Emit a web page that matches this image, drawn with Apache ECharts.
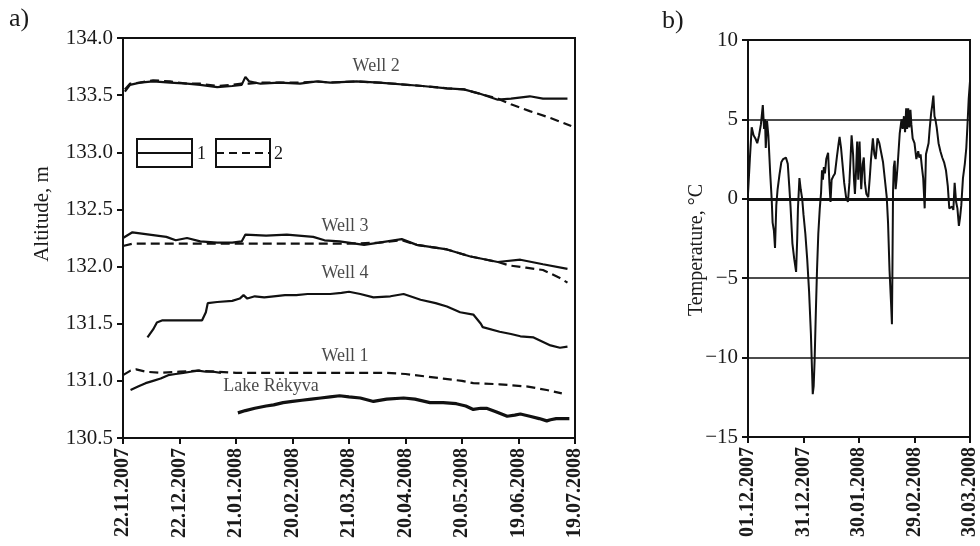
<!DOCTYPE html>
<html><head><meta charset="utf-8">
<script src="https://cdn.jsdelivr.net/npm/echarts@6/dist/echarts.min.js"></script>
<style>html,body{margin:0;padding:0;background:#fff}#c{width:980px;height:546px}</style>
</head><body><div id="c"></div>
<script>
// ---- Panel a: altitude (x = days since 22.11.2007) ----
const altTicks = ['22.11.2007','22.12.2007','21.01.2008','20.02.2008','21.03.2008','20.04.2008','20.05.2008','19.06.2008','19.07.2008'];
const well2Solid = [[1,133.53],[3.7,133.59],[9,133.61],[16,133.62],[25,133.61],[34,133.6],[41,133.59],[50,133.57],[58,133.58],[63,133.59],[65,133.66],[67,133.62],[73,133.6],[83,133.61],[94,133.6],[103,133.62],[110,133.61],[124,133.62],[136,133.61],[159,133.58],[172,133.56],[181,133.55],[190,133.51],[199,133.46],[206,133.47],[216,133.49],[223,133.47],[236,133.47]];
const well2Dashed = [[1,133.55],[3.7,133.6],[9,133.61],[16,133.63],[25,133.62],[34,133.6],[41,133.6],[50,133.58],[58,133.59],[63,133.6],[67,133.6],[73,133.61],[83,133.61],[94,133.61],[103,133.62],[110,133.61],[124,133.62],[136,133.61],[159,133.58],[172,133.56],[181,133.55],[190,133.51],[199,133.47],[206,133.42],[216,133.36],[227,133.3],[238,133.23]];
const well3Solid = [[0,132.25],[5,132.3],[14,132.28],[23,132.26],[28,132.23],[34,132.25],[41,132.22],[50,132.21],[58,132.21],[63,132.22],[65,132.28],[76,132.27],[87,132.28],[101,132.26],[107,132.23],[115,132.22],[128,132.19],[136,132.21],[148,132.24],[156,132.19],[172,132.15],[184,132.09],[199,132.04],[211,132.06],[223,132.02],[236,131.98]];
const well3Dashed = [[0,132.18],[5,132.2],[20,132.2],[40,132.2],[60,132.2],[80,132.2],[100,132.2],[120,132.2],[136,132.21],[148,132.23],[156,132.19],[172,132.15],[184,132.09],[199,132.04],[205,132.01],[214,131.99],[223,131.97],[232,131.9],[236,131.86]];
const well4Solid = [[13,131.38],[16,131.45],[18,131.51],[21,131.53],[30,131.53],[42,131.53],[44,131.6],[45,131.68],[50,131.69],[58,131.7],[62,131.72],[64,131.75],[66,131.72],[70,131.74],[75,131.73],[80,131.74],[86,131.75],[92,131.75],[98,131.76],[104,131.76],[110,131.76],[116,131.77],[120,131.78],[126,131.76],[133,131.73],[142,131.74],[149,131.76],[158,131.71],[166,131.68],[172,131.65],[179,131.6],[186,131.58],[190,131.5],[191,131.47],[200,131.43],[206,131.41],[211,131.39],[218,131.38],[227,131.31],[232,131.29],[236,131.3]];
const well1Solid = [[4,130.92],[8,130.95],[12,130.98],[16,131.0],[20,131.02],[24,131.05],[28,131.06],[32,131.07],[36,131.08],[40,131.09],[44,131.08],[48,131.08],[52,131.07]];
const well1Dashed = [[0,131.05],[4,131.09],[7,131.1],[12,131.08],[20,131.07],[30,131.08],[40,131.09],[50,131.08],[60,131.07],[80,131.07],[100,131.07],[120,131.07],[140,131.07],[150,131.06],[160,131.04],[170,131.02],[180,131.0],[186,130.98],[200,130.97],[215,130.95],[225,130.92],[233,130.89]];
const lakeSolid = [[61,130.72],[65,130.74],[70,130.76],[76,130.78],[80,130.79],[85,130.81],[90,130.82],[95,130.83],[100,130.84],[105,130.85],[110,130.86],[115,130.87],[120,130.86],[126,130.85],[133,130.82],[140,130.84],[149,130.85],[155,130.84],[163,130.81],[170,130.81],[177,130.8],[182,130.78],[186,130.75],[190,130.76],[193,130.76],[198,130.73],[204,130.69],[208,130.7],[211,130.71],[216,130.69],[221,130.67],[225,130.65],[227,130.66],[230,130.67],[234,130.67],[237,130.67]];
const seriesLabels = ['Well 2','Well 3','Well 4','Well 1','Lake Rėkyva'];
const labelAnchors = [[134.4,133.755],[117.9,132.355],[117.9,131.944],[117.9,131.218],[78.6,130.955]];

// ---- Panel b: air temperature (x = days since 01.12.2007) ----
const tempTicks = ['01.12.2007','31.12.2007','30.01.2008','29.02.2008','30.03.2008'];
const temperature = [[0,0.3],[1,2.5],[2,4.5],[3,4.0],[4,3.8],[5,3.5],[6,4.0],[7,4.7],[8,5.9],[8.7,4.4],[9.2,5.0],[9.6,3.2],[10.3,4.9],[11,4.0],[12,1.6],[12.8,0],[13.3,-1.5],[14,-2.0],[14.6,-3.1],[15.3,-0.4],[16,0.6],[17,1.5],[18,2.3],[19,2.5],[20.5,2.6],[21.5,2.2],[22.3,0.8],[23,-0.5],[24,-2.8],[25,-3.8],[26,-4.6],[26.6,-2.5],[27,-0.6],[27.8,1.3],[28.5,0.6],[29.3,0],[30,-1.0],[31,-2.2],[32,-3.8],[33,-5.8],[34,-8.5],[34.6,-10.8],[35,-12.3],[35.5,-11.8],[36,-10.2],[36.7,-7],[37.3,-4.5],[38,-2.2],[38.8,-0.6],[39.5,0.4],[40,1.8],[40.5,1.2],[41,2.0],[41.6,1.6],[42.3,2.5],[43.3,2.9],[44,1.0],[44.6,-0.2],[45.2,1.2],[46,1.4],[47,1.6],[48,2.6],[49,3.5],[49.5,3.9],[50.3,3.2],[51,2.3],[52,1.0],[53,0.1],[54,-0.2],[54.8,1.0],[55.4,2.5],[56,4.0],[56.8,2.8],[57.3,1.2],[57.8,0.3],[58.5,2.0],[59,3.6],[59.6,1.2],[60.3,3.6],[61.2,0.6],[62,2.2],[62.6,2.6],[63.2,1.0],[64,0.3],[65,0.1],[65.8,1.3],[66.5,2.5],[67.5,3.8],[68.3,2.8],[69,2.5],[70,3.8],[71,3.5],[72,2.9],[73,2.3],[74,1.2],[75,0.1],[75.7,-1.5],[76.5,-4.5],[77.3,-6.5],[77.8,-7.9],[78.1,-4.0],[78.4,0.5],[78.8,2.0],[79.3,2.4],[79.8,0.6],[80.3,1.2],[81,2.3],[82,4.1],[83,5.0],[83.6,4.4],[84.3,5.2],[84.9,4.2],[85.5,5.7],[86,4.4],[86.6,5.7],[87.2,4.5],[87.8,5.6],[88.3,4.7],[89,3.8],[90,3.5],[91,2.5],[92,3.0],[92.6,2.6],[93.3,2.8],[94,2.0],[94.7,1.3],[95.5,-0.6],[96.2,2.8],[97,3.2],[97.6,3.5],[98.2,4.4],[99,5.4],[99.6,5.9],[100.2,6.5],[100.8,5.2],[101.3,5.0],[102,4.5],[103,3.5],[104,3.0],[105,2.6],[106,2.3],[107,1.8],[108,0.8],[108.8,-0.6],[109.5,-0.5],[110.3,-0.5],[111,-0.7],[111.7,1.0],[112.5,-0.2],[113.2,-0.6],[114,-1.7],[114.6,-1.2],[115.3,-0.4],[116.2,1.3],[117.2,2.2],[118,3.2],[118.7,4.8],[119.3,6.3],[120,7.4]];

const FONT = 'Liberation Serif';
const INK = '#111';
const TXT = '#1a1a1a';
const chart = echarts.init(document.getElementById('c'), null, {renderer: 'canvas'});

function solid(data, idx, w) {
  return {type: 'line', xAxisIndex: idx, yAxisIndex: idx, data: data, showSymbol: false, symbol: 'none',
    lineStyle: {color: INK, width: w || 2.2}, silent: true, animation: false, z: 3};
}
function dashed(data, idx) {
  return {type: 'line', xAxisIndex: idx, yAxisIndex: idx, data: data, showSymbol: false, symbol: 'none',
    lineStyle: {color: INK, width: 2.2, type: [9, 5]}, silent: true, animation: false, z: 3};
}
const axisLabelX = (ticks) => ({show: true, rotate: 90, margin: 10, color: TXT, fontFamily: FONT, fontWeight: 'bold', fontSize: 20,
  formatter: v => ticks[Math.round(v / 30)] || ''});
const axisLabelY = {color: TXT, fontFamily: FONT, fontSize: 21, margin: 10};

const option = {
  backgroundColor: '#fff',
  animation: false,
  grid: [
    {left: 123, top: 38, width: 452, height: 400, show: true, borderColor: INK, borderWidth: 2, backgroundColor: 'transparent'},
    {left: 748, top: 40, width: 227, height: 397, show: true, borderColor: INK, borderWidth: 2, backgroundColor: 'transparent'}
  ],
  xAxis: [
    {type: 'value', gridIndex: 0, min: 0, max: 240, interval: 30,
      axisLine: {show: true, onZero: false, lineStyle: {color: INK, width: 2}},
      axisTick: {show: true, inside: false, length: 6, lineStyle: {color: INK, width: 2}},
      axisLabel: axisLabelX(altTicks), splitLine: {show: false}},
    {type: 'value', gridIndex: 1, min: 0, max: 120, interval: 30,
      axisLine: {show: true, onZero: false, lineStyle: {color: INK, width: 2}},
      axisTick: {show: true, inside: false, length: 6, lineStyle: {color: INK, width: 2}},
      axisLabel: axisLabelX(tempTicks), splitLine: {show: false}}
  ],
  yAxis: [
    {type: 'value', gridIndex: 0, min: 130.5, max: 134.0, interval: 0.5,
      axisLine: {show: true, onZero: false, lineStyle: {color: INK, width: 2}},
      axisTick: {show: true, inside: false, length: 6, lineStyle: {color: INK, width: 2}},
      axisLabel: Object.assign({formatter: v => v.toFixed(1)}, axisLabelY), splitLine: {show: false}},
    {type: 'value', gridIndex: 1, min: -15, max: 10, interval: 5,
      axisLine: {show: true, onZero: false, lineStyle: {color: INK, width: 2}},
      axisTick: {show: true, inside: false, length: 6, lineStyle: {color: INK, width: 2}},
      axisLabel: Object.assign({formatter: v => (v < 0 ? '\u2212' + Math.abs(v) : String(v))}, axisLabelY),
      splitLine: {show: true, lineStyle: {color: INK, width: 1.6}}}
  ],
  series: [
    solid(well2Solid, 0), dashed(well2Dashed, 0),
    solid(well3Solid, 0), dashed(well3Dashed, 0),
    solid(well4Solid, 0),
    solid(well1Solid, 0), dashed(well1Dashed, 0),
    solid(lakeSolid, 0, 3.2),
    {type: 'scatter', xAxisIndex: 0, yAxisIndex: 0, symbolSize: 0, silent: true, z: 5,
      data: labelAnchors.map((p, i) => ({value: p, name: seriesLabels[i]})),
      label: {show: true, position: 'inside', formatter: p => p.name, color: TXT, fontFamily: FONT, fontSize: 18}},
    Object.assign(solid(temperature, 1, 2), {
      markLine: {silent: true, symbol: 'none', label: {show: false}, lineStyle: {color: INK, width: 2.8, type: 'solid'},
        data: [{yAxis: 0}]}})
  ],
  graphic: [
    {type: 'text', left: 9, top: 6, style: {text: 'a)', font: '26px "' + FONT + '"', fill: TXT}},
    {type: 'text', left: 662, top: 8, style: {text: 'b)', font: '26px "' + FONT + '"', fill: TXT}},
    {type: 'text', x: 42, y: 214, rotation: Math.PI / 2,
      style: {text: 'Altitude, m', font: '21px "' + FONT + '"', fill: TXT, textAlign: 'center', textVerticalAlign: 'middle'}},
    {type: 'text', x: 697, y: 250, rotation: Math.PI / 2,
      style: {text: 'Temperature, °C', font: '20px "' + FONT + '"', fill: TXT, textAlign: 'center', textVerticalAlign: 'middle'}},
    {type: 'rect', shape: {x: 137, y: 139, width: 55, height: 28}, style: {fill: 'none', stroke: INK, lineWidth: 2}},
    {type: 'line', shape: {x1: 137, y1: 153, x2: 192, y2: 153}, style: {stroke: INK, lineWidth: 2}},
    {type: 'text', x: 197, y: 154, style: {text: '1', font: '18px "' + FONT + '"', fill: TXT, textVerticalAlign: 'middle'}},
    {type: 'rect', shape: {x: 216, y: 139, width: 54, height: 28}, style: {fill: 'none', stroke: INK, lineWidth: 2}},
    {type: 'line', shape: {x1: 216, y1: 153, x2: 270, y2: 153}, style: {stroke: INK, lineWidth: 2, lineDash: [8, 5]}},
    {type: 'text', x: 274, y: 154, style: {text: '2', font: '18px "' + FONT + '"', fill: TXT, textVerticalAlign: 'middle'}}
  ]
};
chart.setOption(option);
</script></body></html>
